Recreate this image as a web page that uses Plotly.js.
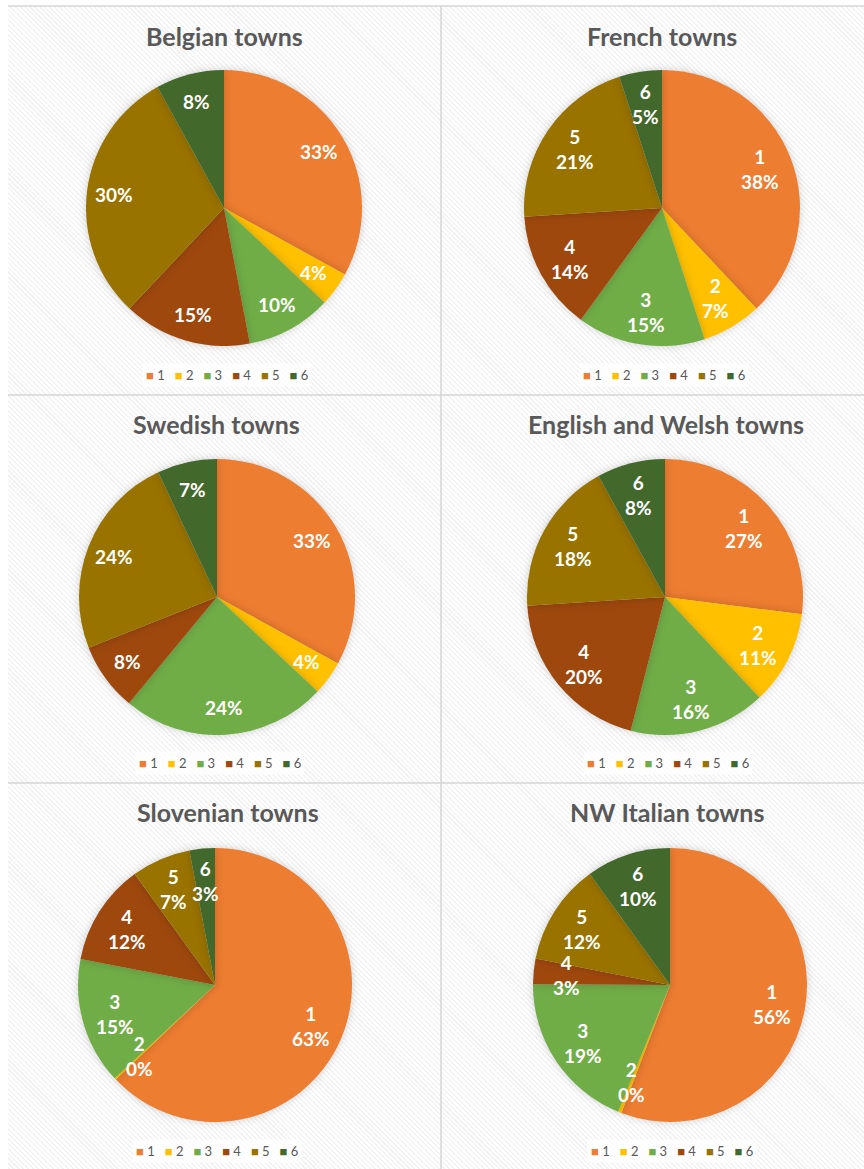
<!DOCTYPE html>
<html><head><meta charset="utf-8">
<script src="https://cdn.plot.ly/plotly-3.0.1.min.js"></script>
<style>
html,body{margin:0;padding:0;background:#fff;}
#wrap{position:relative;width:864px;height:1169px;overflow:hidden;}
#hatch{position:absolute;left:8px;top:6px;width:856px;height:1163px;
  background:repeating-linear-gradient(45deg,#f3f3f3 0px,#f3f3f3 1.5px,#ffffff 1.5px,#ffffff 3.5px);}
#chart{position:absolute;left:0;top:0;width:864px;height:1169px;}
.pielayer .trace .slice path{filter:drop-shadow(0 0 4px rgba(0,0,0,0.18));}
</style></head><body>
<div id="wrap"><div id="hatch"></div><div id="chart"></div></div>
<script>
// ---- data ----
const categories = ['1','2','3','4','5','6'];
const colors = ['#ED7D31','#FFC000','#70AD47','#9E480E','#997300','#43682B'];
const titles = ['Belgian towns','French towns','Swedish towns','English and Welsh towns','Slovenian towns','NW Italian towns'];
const belgian = [33,4,10,15,30,8];
const french = [38,7,15,14,21,5];
const swedish = [33,4,24,8,24,7];
const englishWelsh = [27,11,16,20,18,8];
const slovenian = [63,0.2,15,12,7,3];
const nwItalian = [56,0.4,19,3,12,10];
const showCategoryInLabel = [false,true,false,true,true,true];
const series = [belgian,french,swedish,englishWelsh,slovenian,nwItalian];

// ---- layout (page pixel positions) ----
const W = 864, H = 1169;
const panels = [
  {cx:224, cy:208, r:138, tx:224, ty:36,  lx:227, ly:375},
  {cx:662, cy:208, r:138, tx:662, ty:36,  lx:664, ly:375},
  {cx:217, cy:597, r:138, tx:216, ty:424, lx:220, ly:763},
  {cx:665, cy:597, r:138, tx:666, ty:424, lx:668, ly:763},
  {cx:215, cy:985, r:137, tx:228, ty:812, lx:217, ly:1151},
  {cx:670, cy:985, r:137, tx:667, ty:812, lx:672, ly:1151}
];
const fx = x => x / W;
const fy = y => 1 - y / H;

const data = series.map((vals, i) => {
  const p = panels[i];
  return {
    type: 'pie',
    labels: categories,
    values: vals,
    sort: false,
    direction: 'clockwise',
    rotation: 0,
    marker: {colors: colors, line: {width: 0}},
    domain: {x: [fx(p.cx - p.r), fx(p.cx + p.r)], y: [fy(p.cy + p.r), fy(p.cy - p.r)]},
    textinfo: 'none',
    hoverinfo: 'label+percent',
    showlegend: false
  };
});

const annotations = [];
const labelFont = {family: 'Lato, sans-serif', size: 19, color: '#ffffff', weight: 'bold'};
panels.forEach((p, i) => {
  annotations.push({
    xref: 'paper', yref: 'paper', x: fx(p.tx), y: fy(p.ty), xanchor: 'center', yanchor: 'middle',
    showarrow: false, text: titles[i],
    font: {family: 'Lato, sans-serif', size: 25, color: '#595959', weight: 'bold'}
  });
  const legendText = categories.map((c, k) =>
    `<span style="color:${colors[k]}">■</span>\u00a0${c}`).join('\u00a0\u00a0\u00a0');
  annotations.push({
    xref: 'paper', yref: 'paper', x: fx(p.lx), y: fy(p.ly), xanchor: 'center', yanchor: 'middle',
    showarrow: false, text: legendText, bgcolor: 'rgba(255,255,255,0.75)', borderpad: 3,
    font: {family: 'Lato, sans-serif', size: 13, color: '#595959'}
  });
  // data labels placed along each slice's bisector (Excel-style)
  const vals = series[i];
  const total = vals.reduce((a, b) => a + b, 0);
  const k = showCategoryInLabel[i] ? 0.76 : 0.8;
  let cum = 0;
  vals.forEach((v, j) => {
    const th = ((cum + v / 2) / total) * 2 * Math.PI;
    cum += v;
    const pct = Math.round(v / total * 100) + '%';
    annotations.push({
      xref: 'paper', yref: 'paper',
      x: fx(p.cx + k * p.r * Math.sin(th)), y: fy(p.cy - k * p.r * Math.cos(th)),
      xanchor: 'center', yanchor: 'middle', showarrow: false,
      text: showCategoryInLabel[i] ? categories[j] + '<br>' + pct : pct,
      font: labelFont
    });
  });
});

const lineStyle = {color: '#d6d6d6', width: 1.5};
const shapes = [
  {type: 'line', xref: 'paper', yref: 'paper', x0: fx(8), x1: 1, y0: fy(6), y1: fy(6), line: lineStyle},
  {type: 'line', xref: 'paper', yref: 'paper', x0: fx(441), x1: fx(441), y0: fy(6), y1: 0, line: lineStyle},
  {type: 'line', xref: 'paper', yref: 'paper', x0: fx(8), x1: 1, y0: fy(395), y1: fy(395), line: lineStyle},
  {type: 'line', xref: 'paper', yref: 'paper', x0: fx(8), x1: 1, y0: fy(783), y1: fy(783), line: lineStyle}
];

const layout = {
  width: W, height: H,
  margin: {l: 0, r: 0, t: 0, b: 0},
  paper_bgcolor: 'rgba(0,0,0,0)',
  plot_bgcolor: 'rgba(0,0,0,0)',
  showlegend: false,
  annotations: annotations,
  shapes: shapes
};

Plotly.newPlot('chart', data, layout, {staticPlot: true, displayModeBar: false});
</script>
</body></html>
